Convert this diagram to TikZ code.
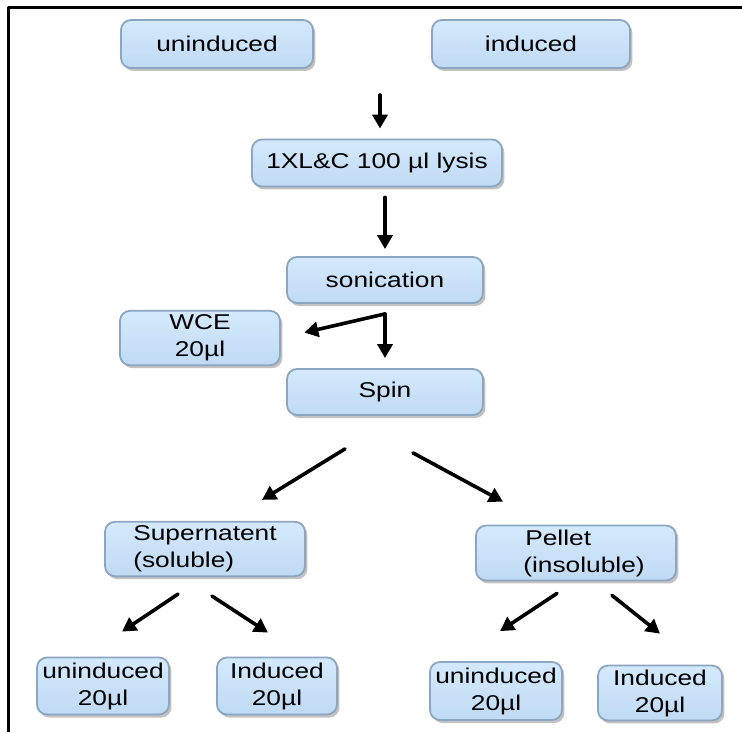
\documentclass[tikz,border=0pt]{standalone}
\usepackage{fontspec}
\setmainfont{Liberation Sans}[FakeStretch=1.23]
\usetikzlibrary{arrows.meta,calc,shadows}

\definecolor{boxtop}{RGB}{212,233,252}
\definecolor{boxbot}{RGB}{192,218,244}
\definecolor{boxedge}{RGB}{140,165,192}

\begin{document}
\begin{tikzpicture}[
  x=0.5pt, y=-0.5pt,
  line cap=round, line join=round,
  box/.style={draw=boxedge, line width=0.9pt, top color=boxtop, bottom color=boxbot,
              rounded corners=5pt, inner sep=2pt, align=center,
              font=\fontsize{10.7}{13.5}\selectfont,
              drop shadow={shadow xshift=1.2pt, shadow yshift=-1.5pt,
                           opacity=0.4, fill=black!60}},
  arr/.style={line width=1.8pt, -{Triangle[length=7pt,width=7.5pt]}}
]

  \useasboundingbox (0,0) rectangle (742,732);

  % ── Frame ─────────────────────────────────────────────────────────────────
  \draw[line width=1.5pt, line cap=butt] (8,732) -- (8,8) -- (742,8);

  % ── Boxes ─────────────────────────────────────────────────────────────────
  \node[box, minimum width=96pt,  minimum height=24pt] (unind)  at (217,44)  {uninduced};
  \node[box, minimum width=99pt,  minimum height=24pt] (ind)    at (531,44)  {induced};
  \node[box, minimum width=125pt, minimum height=23.5pt] (lysis) at (377,163) {1XL\&C 100 µl lysis};
  \node[box, minimum width=98pt,  minimum height=23pt] (sonic)  at (385,280) {sonication};
  \node[box, minimum width=80pt,  minimum height=26pt] (wce)    at (200,338) {WCE\\20µl};
  \node[box, minimum width=98pt,  minimum height=23pt] (spin)   at (385,392) {Spin};
  \node[box, minimum width=100pt, minimum height=24pt, align=left] (super)  at (205,549)
      {Supernatent\\(soluble)};
  \node[box, minimum width=100pt, minimum height=25pt, align=left] (pellet) at (576,553)
      {\hspace*{9pt}Pellet\\\hspace*{8pt}(insoluble)};

  \node[box, minimum width=66pt, minimum height=28.5pt] (supun)  at (103,686) {uninduced\\20µl};
  \node[box, minimum width=60pt, minimum height=28.5pt] (supind) at (277,686) {Induced\\20µl};
  \node[box, minimum width=66pt, minimum height=29pt]   (pelun)  at (496,691) {uninduced\\20µl};
  \node[box, minimum width=62pt, minimum height=27pt]   (pelind) at (660,693) {Induced\\20µl};

  % ── Arrows ────────────────────────────────────────────────────────────────
  \coordinate (merge) at (380,95);
  \draw[arr, shorten >=5pt] (merge) -- (merge |- lysis.north);

  \draw[arr, shorten <=5pt, shorten >=3.5pt] (lysis.south -| sonic.south) -- (sonic.north);

  % split after sonication: WCE aside, rest to spin
  \coordinate (split) at ($(sonic.south)+(0,10)$);
  \draw[arr, shorten >=5pt]  (split) -- (spin.north);
  \draw[arr, shorten >=12pt] (split) -- (wce.east);

  % spin into the two fractions
  \draw[arr] ($(spin.south)+(-40,33)$) -- ($(super.north)+(57,-21)$);
  \draw[arr] ($(spin.south)+(28,37)$)  -- ($(pellet.north)+(-73,-23)$);

  % fractions into samples
  \draw[arr] ($(super.south)+(-27,17)$) -- ($(supun.north)+(19,-25)$);
  \draw[arr] ($(super.south)+(7,19)$)   -- ($(supind.north)+(-9,-24)$);
  \draw[arr] ($(pellet.south)+(-19,12)$) -- ($(pelun.north)+(4,-30)$);
  \draw[arr] ($(pellet.south)+(36,14)$)  -- ($(pelind.north)+(0,-31)$);

\end{tikzpicture}
\end{document}
